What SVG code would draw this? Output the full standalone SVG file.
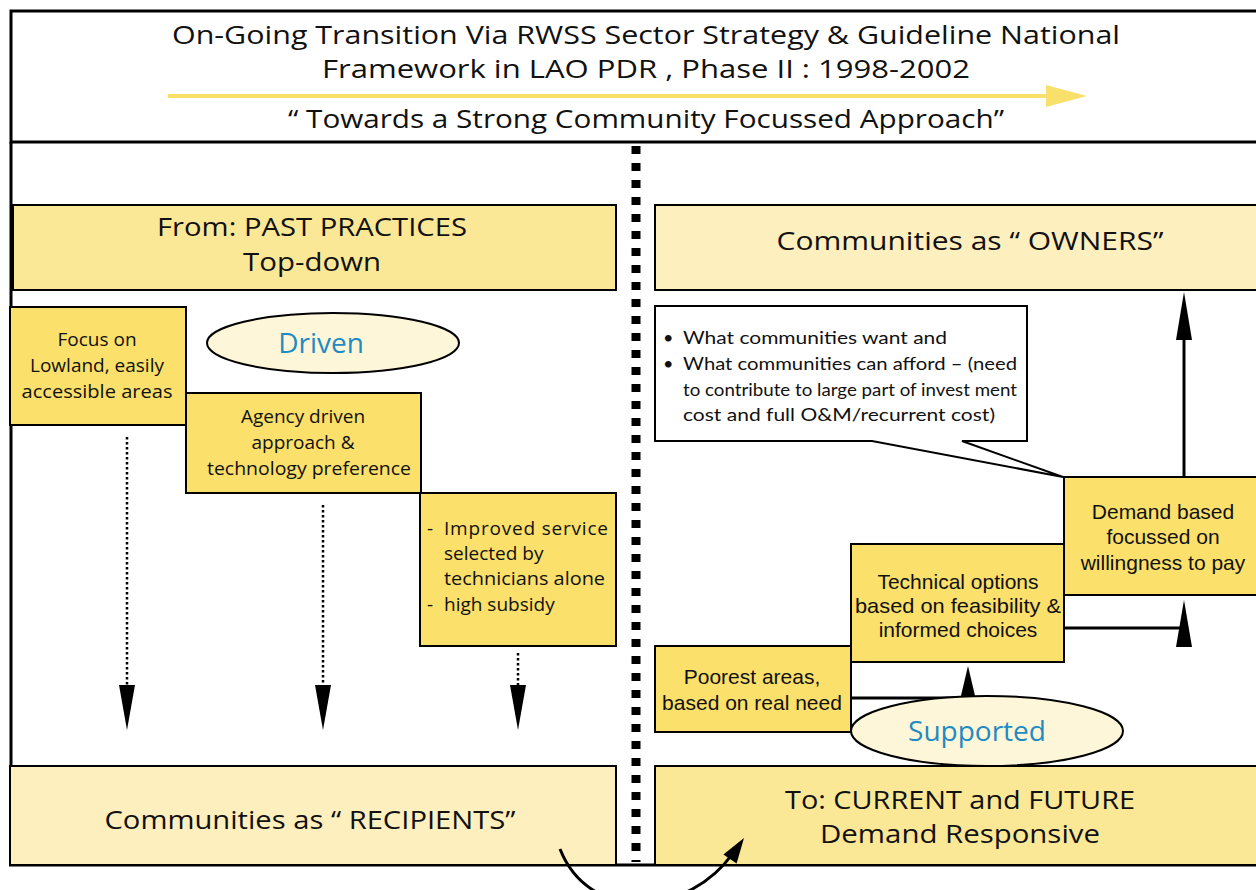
<svg xmlns="http://www.w3.org/2000/svg" width="1256" height="890" viewBox="0 0 1256 890">
<defs>
<style>
.b1{fill:#FBE06B;stroke:#000;stroke-width:2}
.b2{fill:#FBE897;stroke:#000;stroke-width:2}
.b3{fill:#FEEFBF;stroke:#000;stroke-width:2}
.ell{fill:#FEF6D8;stroke:#000;stroke-width:2}
.t{font-family:"Open Sans","DejaVu Sans",sans-serif;fill:#111;text-anchor:middle}
.big{font-size:26px}
.ttl{font-size:25px}
.g{font-family:"Open Sans","DejaVu Sans",sans-serif;font-size:19px;fill:#111;text-anchor:middle}
.l{text-anchor:start}
.c{font-family:"Lato","Open Sans",sans-serif;font-size:18px;fill:#111;text-anchor:start}
.a{font-family:"Liberation Sans",Arial,sans-serif;font-size:21px;fill:#111;text-anchor:middle}
.blue{font-family:"Open Sans","DejaVu Sans",sans-serif;font-size:28px;fill:#1E8BC3;text-anchor:middle}
.dot{stroke:#000;stroke-width:2.5;stroke-dasharray:2.5 2.5;fill:none}
.ln{stroke:#000;stroke-width:3;fill:none}
.head{fill:#000}
</style>
</defs>
<rect x="0" y="0" width="1256" height="890" fill="#fff"/>

<g id="header">
<rect x="11" y="11" width="1250" height="131" fill="#fff" stroke="#000" stroke-width="3"/>
<text class="t ttl" x="646" y="44" textLength="948" lengthAdjust="spacingAndGlyphs">On-Going Transition Via RWSS Sector Strategy &amp; Guideline National</text>
<text class="t ttl" x="646" y="78" textLength="648" lengthAdjust="spacingAndGlyphs">Framework in LAO PDR , Phase II : 1998-2002</text>
<line x1="168" y1="96" x2="1050" y2="96" stroke="#F8E06A" stroke-width="4"/>
<polygon points="1046,85 1087,96 1046,107" fill="#F8E06A"/>
<text class="t ttl" x="646" y="128" textLength="716" lengthAdjust="spacingAndGlyphs">“ Towards a Strong Community Focussed Approach”</text>
</g>

<g id="frame">
<line x1="11" y1="142" x2="11" y2="866" stroke="#000" stroke-width="3"/>
<line x1="9" y1="865" x2="1256" y2="865" stroke="#000" stroke-width="3"/>
<line x1="636" y1="146" x2="636" y2="862" stroke="#000" stroke-width="9" stroke-dasharray="8 9"/>
</g>

<g id="from">
<rect class="b2" x="13" y="205" width="603" height="85"/>
<text class="t big" x="312" y="236" textLength="310" lengthAdjust="spacingAndGlyphs">From: PAST PRACTICES</text>
<text class="t big" x="312" y="271" textLength="138" lengthAdjust="spacingAndGlyphs">Top-down</text>
</g>

<g id="owners">
<rect class="b3" x="655" y="205" width="610" height="85"/>
<text class="t big" x="970" y="250" textLength="387" lengthAdjust="spacingAndGlyphs">Communities as “ OWNERS”</text>
</g>

<g id="focus">
<rect class="b1" x="10" y="307" width="176" height="118"/>
<text class="g" x="97" y="346">Focus on</text>
<text class="g" x="97" y="372">Lowland, easily</text>
<text class="g" x="97" y="398" textLength="151" lengthAdjust="spacingAndGlyphs">accessible areas</text>
</g>

<g id="driven">
<ellipse class="ell" cx="333" cy="343" rx="126" ry="30"/>
<text class="blue" x="321" y="353">Driven</text>
</g>

<g id="agency">
<rect class="b1" x="186" y="393" width="235" height="100"/>
<text class="g" x="303" y="423">Agency driven</text>
<text class="g" x="303" y="449">approach &amp;</text>
<text class="g" x="309" y="475" textLength="204" lengthAdjust="spacingAndGlyphs">technology preference</text>
</g>

<g id="improved">
<rect class="b1" x="420" y="493" width="196" height="153"/>
<text class="g l" x="427" y="535">-</text>
<text class="g l" x="444" y="535" textLength="164" lengthAdjust="spacing">Improved service</text>
<text class="g l" x="444" y="560">selected by</text>
<text class="g l" x="444" y="585" textLength="161" lengthAdjust="spacingAndGlyphs">technicians alone</text>
<text class="g l" x="427" y="611">-</text>
<text class="g l" x="444" y="611">high subsidy</text>
</g>

<g id="recipients">
<rect class="b3" x="10" y="766" width="606" height="99"/>
<text class="t big" x="310" y="829" textLength="411" lengthAdjust="spacingAndGlyphs">Communities as “ RECIPIENTS”</text>
</g>

<g id="callout">
<path d="M655,306 H1027 V441 H962 L1063,477 L872,441 H655 Z" fill="#fff" stroke="#000" stroke-width="2" stroke-linejoin="miter"/>
<text class="c" x="663" y="344">•</text>
<text class="c" x="683" y="344" textLength="264" lengthAdjust="spacingAndGlyphs">What communities want and</text>
<text class="c" x="663" y="370">•</text>
<text class="c" x="683" y="370" textLength="334" lengthAdjust="spacingAndGlyphs">What communities can afford – (need</text>
<text class="c" x="683" y="396" textLength="334" lengthAdjust="spacingAndGlyphs">to contribute to large part of invest ment</text>
<text class="c" x="683" y="421" textLength="312" lengthAdjust="spacingAndGlyphs">cost and full O&amp;M/recurrent cost)</text>
</g>

<g id="demand">
<rect class="b1" x="1064" y="477" width="200" height="118"/>
<text class="a" x="1163" y="519">Demand based</text>
<text class="a" x="1163" y="544">focussed on</text>
<text class="a" x="1163" y="570">willingness to pay</text>
</g>

<g id="technical">
<rect class="b1" x="851" y="544" width="213" height="118"/>
<text class="a" x="958" y="589">Technical options</text>
<text class="a" x="958" y="613" textLength="206" lengthAdjust="spacingAndGlyphs">based on feasibility &amp;</text>
<text class="a" x="958" y="637">informed choices</text>
</g>

<g id="poorest">
<rect class="b1" x="655" y="646" width="196" height="86"/>
<text class="a" x="752" y="684">Poorest areas,</text>
<text class="a" x="752" y="710">based on real need</text>
</g>

<g id="connectors">
<line class="dot" x1="127" y1="437" x2="127" y2="688"/>
<polygon class="head" points="119,685 135,685 127,730"/>
<line class="dot" x1="323" y1="505" x2="323" y2="688"/>
<polygon class="head" points="315,685 331,685 323,730"/>
<line class="dot" x1="518" y1="653" x2="518" y2="688"/>
<polygon class="head" points="510,685 526,685 518,730"/>
<line class="ln" x1="1184" y1="477" x2="1184" y2="336"/>
<polygon class="head" points="1176,340 1192,340 1184,292"/>
<polyline class="ln" points="1064,628 1184,628"/>
<polygon class="head" points="1176,647 1192,647 1184,600"/>
<polyline class="ln" points="851,698 968,698"/>
<polygon class="head" points="960,700 976,700 968,666"/>
</g>

<g id="supported">
<ellipse class="ell" cx="987" cy="731" rx="136" ry="35"/>
<text class="blue" x="977" y="741">Supported</text>
</g>

<g id="current">
<rect class="b2" x="655" y="766" width="610" height="99"/>
<text class="t big" x="960" y="809" textLength="350" lengthAdjust="spacingAndGlyphs">To: CURRENT and FUTURE</text>
<text class="t big" x="960" y="843" textLength="280" lengthAdjust="spacingAndGlyphs">Demand Responsive</text>
</g>

<g id="transition-arrow">
<path d="M560,849 C590,925 690,915 733,853" class="ln"/>
<polygon class="head" points="744,838 736.6,863.5 723.4,854.5"/>
</g>
</svg>
